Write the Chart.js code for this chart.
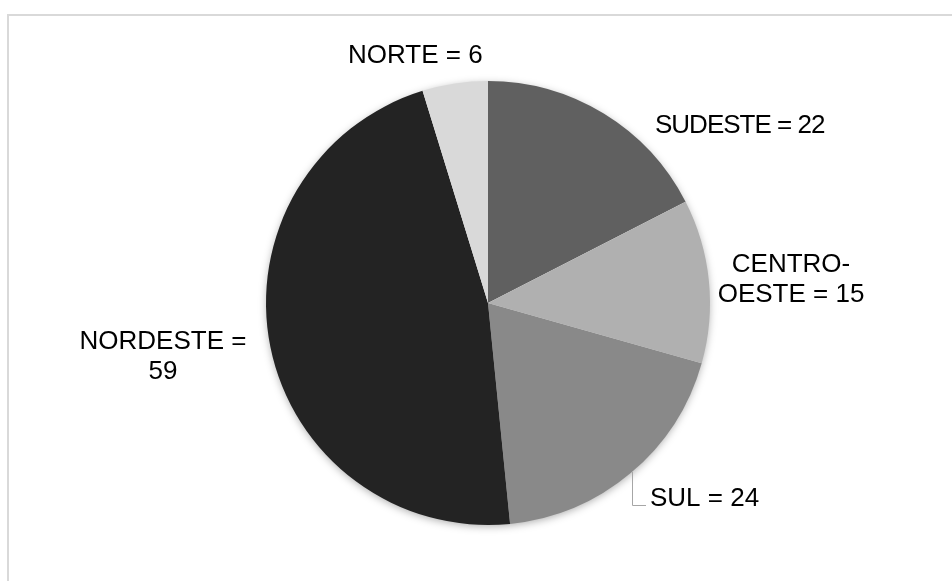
<!DOCTYPE html>
<html>
<head>
<meta charset="utf-8">
<script src="https://cdn.jsdelivr.net/npm/chart.js@4.4.1/dist/chart.umd.min.js"></script>
<style>
  html, body { margin: 0; padding: 0; background: #fff; }
  #wrap { position: relative; width: 952px; height: 581px; }
</style>
</head>
<body>
<div id="wrap"><canvas id="chart"></canvas></div>
<script>
// ================= DATA =================
const regions = ["SUDESTE", "CENTRO-OESTE", "SUL", "NORDESTE", "NORTE"];
const counts  = [22, 15, 24, 59, 6];
const sliceColors = ["#606060", "#b0b0b0", "#898989", "#232323", "#d9d9d9"];

// label text lines + placement (relative to pie centre, baseline of first line)
const labelLayout = [
  { lines: v => ["SUDESTE = " + v],          dx: 167,  dy: -170, align: "left", spacing: -1 },
  { lines: v => ["CENTRO-", "OESTE = " + v], dx: 303,  dy: -31,  align: "center" },
  { lines: v => ["SUL = " + v],              dx: 162,  dy: 203,  align: "left", leader: true },
  { lines: v => ["NORDESTE =", "" + v],      dx: -325, dy: 46,   align: "center" },
  { lines: v => ["NORTE = " + v],            dx: -140, dy: -240, align: "left" }
];

const FONT = "26px 'Liberation Sans', Arial, sans-serif";
const LINE_H = 29.5;

// white page + light frame
const framePlugin = {
  id: "frame",
  beforeDraw(c){
    const ctx = c.ctx;
    ctx.save();
    ctx.fillStyle = "#fff";
    ctx.fillRect(0, 0, c.width, c.height);
    ctx.fillStyle = "#d9d9d9";
    ctx.fillRect(7, 14, c.width - 7, 2);
    ctx.fillRect(7, 14, 2, c.height - 14);
    ctx.restore();
  }
};

// soft shadow behind the pie
const shadowPlugin = {
  id: "pieShadow",
  beforeDatasetsDraw(c){
    const arc = c.getDatasetMeta(0).data[0];
    if(!arc) return;
    const ctx = c.ctx;
    ctx.save();
    ctx.shadowColor = "rgba(0,0,0,0.35)";
    ctx.shadowBlur = 8;
    ctx.shadowOffsetY = 2;
    ctx.fillStyle = "#fff";
    ctx.beginPath();
    ctx.arc(arc.x, arc.y, arc.outerRadius - 1, 0, Math.PI * 2);
    ctx.fill();
    ctx.restore();
  }
};

// category = value labels
const labelPlugin = {
  id: "sliceLabels",
  afterDatasetsDraw(c){
    const ctx = c.ctx;
    const meta = c.getDatasetMeta(0);
    const vals = c.data.datasets[0].data;
    ctx.save();
    ctx.font = FONT;
    ctx.fillStyle = "#000";
    ctx.textBaseline = "alphabetic";
    meta.data.forEach((arc, i) => {
      const L = labelLayout[i];
      const x = arc.x + L.dx;
      const y = arc.y + L.dy;
      ctx.textAlign = L.align;
      ctx.letterSpacing = (L.spacing || 0) + "px";
      L.lines(vals[i]).forEach((t, k) => ctx.fillText(t, x, y + k * LINE_H));
      ctx.letterSpacing = "0px";

      if(L.leader){
        // elbow line from the slice edge down to the label
        const lx = x - 18;
        const ang = Math.acos((lx - arc.x) / arc.outerRadius);
        const sy = arc.y + Math.sin(ang) * arc.outerRadius;
        ctx.strokeStyle = "#a6a6a6";
        ctx.lineWidth = 1;
        ctx.beginPath();
        ctx.moveTo(lx + 0.5, sy);
        ctx.lineTo(lx + 0.5, y - 1 + 0.5);
        ctx.lineTo(x - 4, y - 1 + 0.5);
        ctx.stroke();
      }
    });
    ctx.restore();
  }
};

let chart;

function initializeChart(){
  const ctx = document.getElementById("chart").getContext("2d");
  chart = new Chart(ctx, {
    type: "pie",
    data: {
      labels: regions,
      datasets: [{
        data: counts,
        backgroundColor: sliceColors,
        borderWidth: 0
      }]
    },
    options: {
      animation: false,
      responsive: true,
      maintainAspectRatio: false,
      layout: { padding: { left: 266, right: 242, top: 81, bottom: 56 } },
      plugins: {
        legend: { display: false },
        tooltip: { enabled: false }
      }
    },
    plugins: [framePlugin, shadowPlugin, labelPlugin]
  });
}

document.addEventListener("DOMContentLoaded", () => {
  initializeChart();
});
</script>
</body>
</html>
